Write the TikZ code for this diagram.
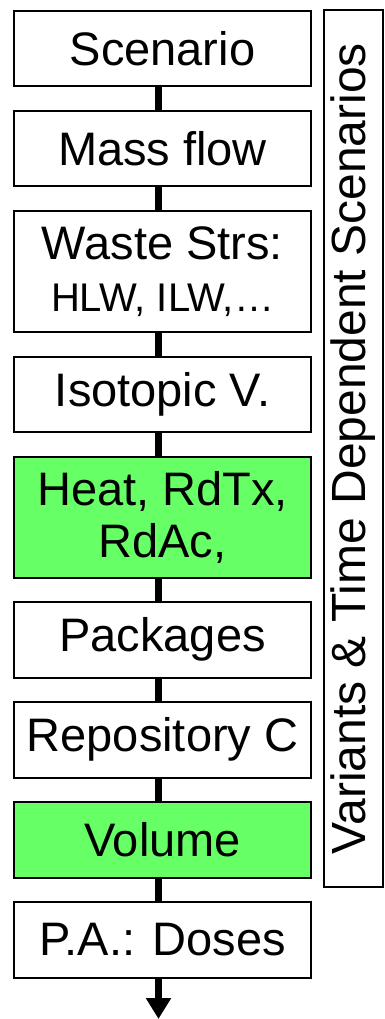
\documentclass[tikz,border=0pt]{standalone}
\usepackage{fontspec}
\setmainfont{Liberation Sans}
\usetikzlibrary{positioning,arrows.meta}
\definecolor{calcgreen}{RGB}{102,255,102}

\begin{document}
\begin{tikzpicture}[
  x=1pt, y=-1pt,
  node distance=22.5pt,
  stage/.style={rectangle, draw=black, line width=2pt, fill=white, minimum width=297pt, minimum height=75.5pt, align=center, font=\fontsize{47}{52}\selectfont},
  tall/.style={stage, minimum height=121pt},
  calc/.style={fill=calcgreen},
  link/.style={line width=7.5pt},
  side/.style={rectangle, draw=black, line width=2pt, rotate=90, minimum width=877pt, minimum height=59pt, font=\fontsize{48}{52}\selectfont}
  ]
  \useasboundingbox (0,0) rectangle (384,1019);
  \node[stage, anchor=north] (scen) at (162.5,10) {Scenario};
  \node[stage, below=of scen] (mass) {Mass flow};
  \node[tall, below=of mass] (waste) {Waste Strs:\\{\fontsize{40}{52}\selectfont HLW, ILW,…}};
  \node[stage, below=of waste] (iso) {Isotopic V.};
  \node[tall, calc, below=of iso] (heat) {Heat, RdTx,\\RdAc,};
  \node[stage, below=of heat] (pack) {Packages};
  \node[stage, below=of pack] (repo) {Repository C};
  \node[stage, calc, below=of repo] (vol) {Volume};
  \node[stage, below=of vol] (pa) {P.A.: Doses};
  \coordinate (out) at (158.5,1019);
  \draw[link] ([xshift=-4pt]scen.south) -- ([xshift=-4pt]mass.north);
  \draw[link] ([xshift=-4pt]mass.south) -- ([xshift=-4pt]waste.north);
  \draw[link] ([xshift=-4pt]waste.south) -- ([xshift=-4pt]iso.north);
  \draw[link] ([xshift=-4pt]iso.south) -- ([xshift=-4pt]heat.north);
  \draw[link] ([xshift=-4pt]heat.south) -- ([xshift=-4pt]pack.north);
  \draw[link] ([xshift=-4pt]pack.south) -- ([xshift=-4pt]repo.north);
  \draw[link] ([xshift=-4pt]repo.south) -- ([xshift=-4pt]vol.north);
  \draw[link] ([xshift=-4pt]vol.south) -- ([xshift=-4pt]pa.north);
  \draw[link, -{Triangle[width=24pt,length=21pt]}] ([xshift=-4pt]pa.south) -- (out);
  \node[side] (vary) at (353.5,448.5) {Variants \& Time Dependent Scenarios};
\end{tikzpicture}
\end{document}
